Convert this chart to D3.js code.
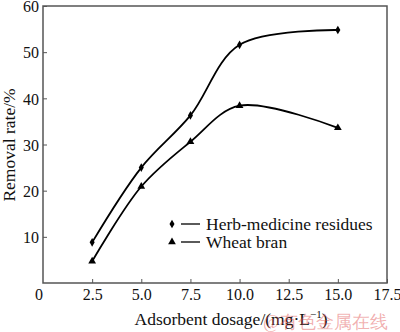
<!DOCTYPE html>
<html><head><meta charset="utf-8">
<script src="https://cdn.jsdelivr.net/npm/d3@7/dist/d3.min.js"></script>
<style>body{margin:0;background:#fff}svg{display:block}text{font-family:"Liberation Serif","Times New Roman",serif}</style>
</head><body><svg id="c" width="400" height="332"></svg>
<script>
const xValues = [2.5, 5.0, 7.5, 10.0, 15.0];
const herbValues = [8.8, 25.0, 36.3, 51.6, 54.8];
const wheatValues = [4.7, 20.9, 30.6, 38.4, 33.6];
const seriesNames = ["Herb-medicine residues", "Wheat bran"];
const xTicks = [2.5, 5.0, 7.5, 10.0, 12.5, 15.0, 17.5];
const yTicks = [10, 20, 30, 40, 50, 60];

const svg = d3.select("#c");
const L = 43, R = 387, T = 6, B = 283;
const x = d3.scaleLinear().domain([0, 17.5]).range([L, R]);
const y = d3.scaleLinear().domain([0, 60]).range([B, T]);
const axisColor = "#555";

const fs = 16;
// frame
svg.append("rect").attr("x", L).attr("y", T).attr("width", R - L).attr("height", B - T)
  .attr("fill", "none").attr("stroke", axisColor).attr("stroke-width", 1.5);

const xa = svg.append("g").attr("transform", `translate(0,${B})`)
  .call(d3.axisBottom(x).tickValues(xTicks).tickFormat(d3.format(".1f")).tickSize(-4).tickPadding(6));
const ya = svg.append("g").attr("transform", `translate(${L},0)`)
  .call(d3.axisLeft(y).tickValues(yTicks).tickFormat(d3.format("d")).tickSize(-4).tickPadding(4));
[xa, ya].forEach(g => {
  g.select(".domain").remove();
  g.selectAll("line").attr("stroke", axisColor).attr("stroke-width", 1);
  g.selectAll("text").attr("font-size", fs).attr("fill", "#111").attr("font-family", "Liberation Serif");
});
ya.selectAll("text").attr("dy", "0.36em");
svg.append("text").attr("x", 39).attr("y", 300).attr("text-anchor", "middle")
  .attr("font-size", fs).attr("fill", "#111").text("0");

const line = d3.line().x(d => x(d[0])).y(d => y(d[1])).curve(d3.curveCatmullRom.alpha(0.5));
const herb = xValues.map((v, i) => [v, herbValues[i]]);
const wheat = xValues.map((v, i) => [v, wheatValues[i]]);
[herb, wheat].forEach(s => svg.append("path").datum(s).attr("d", line)
  .attr("fill", "none").attr("stroke", "#000").attr("stroke-width", 1.8));

const diamond = d3.symbol().type(d3.symbolDiamond).size(22);
const tri = d3.symbol().type(d3.symbolTriangle).size(26);
svg.selectAll(".h").data(herb).enter().append("path")
  .attr("transform", d => `translate(${x(d[0])},${y(d[1])})`).attr("d", diamond).attr("fill", "#000");
svg.selectAll(".w").data(wheat).enter().append("path")
  .attr("transform", d => `translate(${x(d[0])},${y(d[1])})`).attr("d", tri).attr("fill", "#000");

// legend
const lg = [[diamond, 224], [tri, 242]];
lg.forEach((l, i) => {
  svg.append("path").attr("transform", `translate(172,${l[1]})`).attr("d", l[0]).attr("fill", "#000");
  svg.append("line").attr("x1", 181).attr("x2", 200).attr("y1", l[1]).attr("y2", l[1])
    .attr("stroke", "#000").attr("stroke-width", 1.3);
  svg.append("text").attr("x", 206).attr("y", l[1] + 6).attr("font-size", 17.5).attr("fill", "#111")
    .text(seriesNames[i]);
});

// axis titles
svg.append("text").attr("transform", `translate(15,145) rotate(-90)`)
  .attr("text-anchor", "middle").attr("font-size", 17.5).attr("fill", "#111").text("Removal rate/%");
const xt = svg.append("text").attr("x", 231).attr("y", 325).attr("text-anchor", "middle")
  .attr("font-size", 17.5).attr("fill", "#111");
xt.append("tspan").text("Adsorbent dosage/(mg·L");
xt.append("tspan").attr("dy", -7).attr("font-size", 11).text("−1");
xt.append("tspan").attr("dy", 7).text(")");

// watermark
svg.append("text").attr("x", 263).attr("y", 328).attr("font-size", 18)
  .attr("font-family", "Noto Sans CJK SC").attr("fill", "rgba(225,80,80,0.45)").text("@有色金属在线");
</script></body></html>
